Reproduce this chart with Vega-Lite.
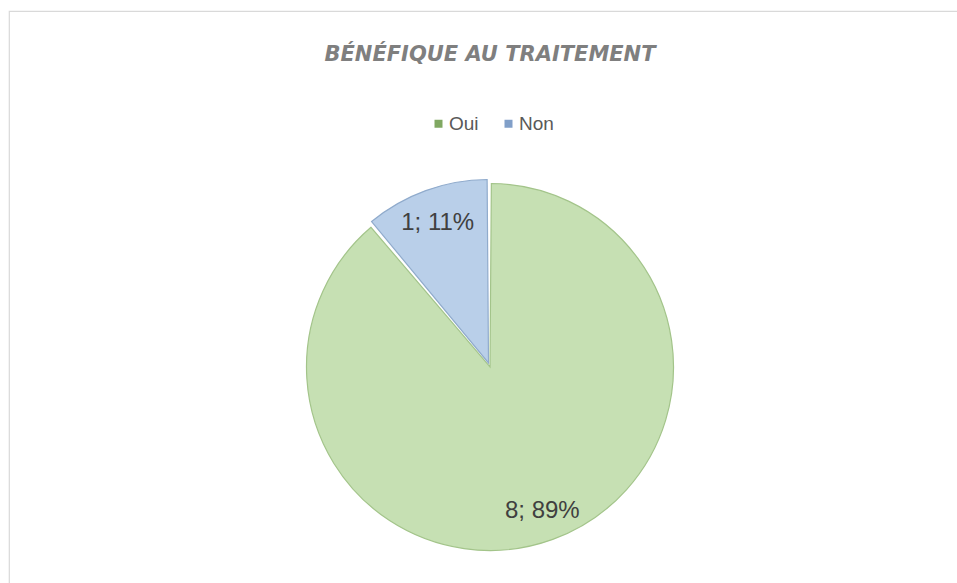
{
  "$schema": "https://vega.github.io/schema/vega-lite/v6.json",
  "autosize": "none",
  "width": 962,
  "height": 712,
  "padding": {"left": 9, "top": 11, "right": 0, "bottom": 0},
  "background": "white",
  "view": {"stroke": "#d9d9d9", "strokeWidth": 1.2, "fill": "white"},
  "config": {
    "font": "Liberation Sans"
  },
  "title": {
    "text": "BÉNÉFIQUE AU TRAITEMENT",
    "orient": "top",
    "anchor": "middle",
    "offset": -71,
    "baseline": "alphabetic",
    "font": "DejaVu Sans",
    "fontSize": 21,
    "fontWeight": "bold",
    "fontStyle": "italic",
    "color": "#7f7f7f"
  },
  "data": {
    "values": [
      {"categorie": "Oui", "valeur": 8},
      {"categorie": "Non", "valeur": 1}
    ]
  },
  "transform": [
    {"joinaggregate": [{"op": "sum", "field": "valeur", "as": "total"}]},
    {"stack": "valeur", "groupby": [], "sort": [{"field": "categorie", "order": "descending"}], "as": ["debut", "fin"]},
    {"calculate": "datum.debut / datum.total", "as": "a0"},
    {"calculate": "datum.fin / datum.total", "as": "a1"},
    {"calculate": "(datum.debut + datum.fin) / 2 / datum.total", "as": "am"},
    {"calculate": "datum.valeur + '; ' + format(datum.valeur / datum.total, '.0%')", "as": "etiquette"}
  ],
  "layer": [
    {
      "mark": {"type": "arc", "radius": 183.5, "opacity": 0},
      "encoding": {
        "theta": {"field": "a0", "type": "quantitative", "stack": null, "scale": {"domain": [0, 1]}},
        "theta2": {"field": "a1"},
        "color": {
          "field": "categorie", "type": "nominal",
          "scale": {"domain": ["Oui", "Non"], "range": ["#80a862", "#819fc8"]},
          "legend": {
            "title": null,
            "orient": "none",
            "legendX": 420,
            "legendY": 103,
            "direction": "horizontal",
            "symbolType": "square",
            "symbolSize": 64,
            "symbolStrokeWidth": 0,
            "symbolOpacity": 1,
            "labelFont": "Liberation Sans",
            "labelFontSize": 19,
            "labelColor": "#595959",
            "labelOffset": 1,
            "columnPadding": 20,
            "padding": 0
          }
        }
      }
    },
    {
      "transform": [{"filter": "datum.categorie === 'Oui'"}],
      "mark": {"type": "arc", "radius": 183.5, "padAngle": 0.015, "stroke": "#a3c48a", "strokeWidth": 1.2},
      "encoding": {
        "theta": {"field": "a0", "type": "quantitative", "stack": null, "scale": {"domain": [0, 1]}},
        "theta2": {"field": "a1"},
        "fill": {
          "field": "categorie", "type": "nominal",
          "scale": {"domain": ["Oui", "Non"], "range": ["#c6e0b3", "#b9cfe9"]},
          "legend": null
        }
      }
    },
    {
      "transform": [{"filter": "datum.categorie === 'Non'"}],
      "mark": {"type": "arc", "radius": 183.5, "padAngle": 0.015, "stroke": "#90abcc", "strokeWidth": 1.2, "xOffset": -1.5, "yOffset": -4},
      "encoding": {
        "theta": {"field": "a0", "type": "quantitative", "stack": null, "scale": {"domain": [0, 1]}},
        "theta2": {"field": "a1"},
        "fill": {"field": "categorie", "type": "nominal", "legend": null}
      }
    },
    {
      "mark": {"type": "text", "radius": 153, "fontSize": 24, "font": "Liberation Sans", "color": "#404040"},
      "encoding": {
        "theta": {"field": "am", "type": "quantitative", "stack": null, "scale": {"domain": [0, 1]}},
        "text": {"field": "etiquette", "type": "nominal"}
      }
    }
  ]
}
